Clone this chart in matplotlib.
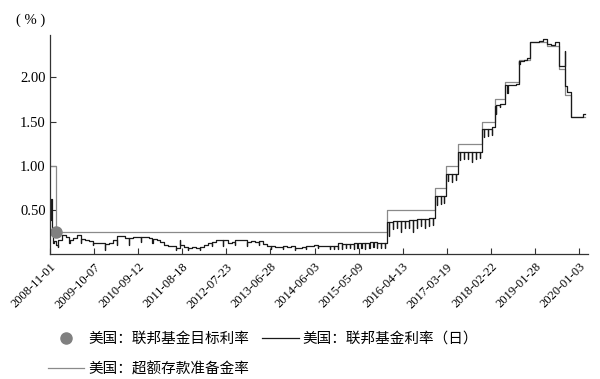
import numpy as np
import pandas as pd
import matplotlib
matplotlib.use('Agg')
import matplotlib.pyplot as plt
from matplotlib.lines import Line2D

nan = np.nan

# monthly level of the effective fed funds rate, Nov 2008 .. Feb 2020
effr_level = [
    0.38, 0.15,                                                          # 2008
    0.16, 0.22, 0.19, 0.16, 0.18, 0.21, 0.17, 0.16, 0.15, 0.12, 0.12, 0.12,  # 2009
    0.11, 0.13, 0.16, 0.20, 0.20, 0.18, 0.18, 0.19, 0.19, 0.19, 0.19, 0.18,  # 2010
    0.17, 0.16, 0.14, 0.10, 0.09, 0.09, 0.07, 0.10, 0.08, 0.07, 0.08, 0.07,  # 2011
    0.08, 0.10, 0.13, 0.14, 0.16, 0.16, 0.16, 0.13, 0.14, 0.16, 0.16, 0.16,  # 2012
    0.14, 0.15, 0.14, 0.15, 0.11, 0.09, 0.09, 0.08, 0.08, 0.09, 0.08, 0.09,  # 2013
    0.07, 0.07, 0.08, 0.09, 0.09, 0.10, 0.09, 0.09, 0.09, 0.09, 0.09, 0.12,  # 2014
    0.11, 0.11, 0.11, 0.12, 0.12, 0.13, 0.13, 0.14, 0.14, 0.12, 0.12, 0.13,  # 2015
    0.36, 0.37, 0.37, 0.37, 0.37, 0.38, 0.39, 0.40, 0.40, 0.40, 0.41, 0.41,  # 2016
    0.66, 0.66, 0.66, 0.91, 0.91, 0.91, 1.16, 1.16, 1.16, 1.16, 1.16, 1.16,  # 2017
    1.42, 1.42, 1.44, 1.69, 1.70, 1.70, 1.91, 1.91, 1.92, 2.19, 2.20, 2.22,  # 2018
    2.40, 2.40, 2.41, 2.44, 2.38, 2.37, 2.40, 2.13, 2.13, 1.83, 1.55, 1.55,  # 2019
    1.55, 1.58,                                                          # 2020
]

# month-end value (dips around the end of month / quarter)
effr_month_end = [
    nan, 0.08,
    nan, nan, 0.12, nan, nan, 0.13, nan, nan, 0.10, nan, nan, 0.05,
    nan, nan, 0.10, nan, nan, 0.10, nan, nan, 0.14, nan, nan, 0.13,
    nan, nan, 0.10, nan, nan, 0.04, 0.16, nan, 0.05, nan, nan, 0.04,
    nan, nan, 0.09, nan, nan, 0.09, nan, nan, 0.10, nan, nan, 0.09,
    nan, nan, 0.10, nan, nan, 0.06, nan, nan, 0.06, nan, nan, 0.05,
    nan, nan, 0.06, nan, nan, 0.07, nan, nan, 0.06, 0.06, 0.06, 0.06,
    0.07, 0.07, 0.06, 0.07, 0.07, 0.06, 0.07, 0.08, 0.07, 0.07, 0.07, 0.20,
    0.28, 0.29, 0.25, 0.29, 0.29, 0.25, 0.30, 0.32, 0.29, 0.32, 0.33, 0.55,
    0.57, 0.58, 0.83, 0.82, 0.84, 1.06, 1.08, 1.08, 1.04, 1.08, 1.09, 1.33,
    1.34, 1.35, 1.58, 1.66, nan, 1.82, nan, nan, 2.15, nan, nan, 2.40,
    nan, nan, nan, nan, nan, 2.40, 2.38, nan, 1.88, 1.58, nan, nan,
    nan, nan,
]

# moves inside a month (rate hikes, spikes)
effr_jump_dates = ['2008-11-12', '2008-11-17', '2008-11-26', '2008-12-17',
                   '2015-12-17', '2016-12-15', '2017-03-16', '2017-06-15',
                   '2017-12-14', '2018-03-22', '2018-06-14', '2018-09-27',
                   '2018-12-20', '2019-09-17', '2019-09-18', '2019-09-19',
                   '2020-02-20']
effr_jump_vals = [0.62, 0.30, 0.12, 0.10,
                  0.36, 0.66, 0.91, 1.16,
                  1.42, 1.68, 1.91, 2.18,
                  2.40, 2.30, 2.25, 1.90,
                  1.58]

# interest on excess reserves
ioer_dates = ['2008-11-01', '2008-12-16', '2015-12-17', '2016-12-15', '2017-03-16',
              '2017-06-15', '2017-12-14', '2018-03-22', '2018-06-14', '2018-09-27',
              '2018-12-20', '2019-05-02', '2019-08-01', '2019-09-19', '2019-10-31',
              '2020-02-20']
ioer_vals = [1.00, 0.25, 0.50, 0.75, 1.00,
             1.25, 1.50, 1.75, 1.95, 2.20,
             2.40, 2.35, 2.10, 1.80, 1.55,
             1.55]

# fed funds target rate
target_dates = ['2008-12-16']
target_vals = [0.25]

x_ticks = ['2008-11-01', '2009-10-07', '2010-09-12', '2011-08-18', '2012-07-23',
           '2013-06-28', '2014-06-03', '2015-05-09', '2016-04-13', '2017-03-19',
           '2018-02-22', '2019-01-28', '2020-01-03']
y_ticks = [0.5, 1.0, 1.5, 2.0]

# build daily-ish knot list for EFFR
months = pd.date_range('2008-11-01', periods=len(effr_level), freq='MS')
knots = []
for m, lv, me in zip(months, effr_level, effr_month_end):
    knots.append((m, lv))
    if not np.isnan(me):
        knots.append((m + pd.offsets.MonthEnd(0), me))
for d, v in zip(effr_jump_dates, effr_jump_vals):
    knots.append((pd.Timestamp(d), v))
knots.sort(key=lambda k: k[0])
effr = pd.DataFrame(knots, columns=['date', 'val'])

serif = ['Liberation Serif', 'Noto Sans CJK SC']
cjk = ['Noto Sans CJK SC', 'DejaVu Sans']

fig = plt.figure(figsize=(6, 3.79), dpi=100)
ax = fig.add_axes([50 / 600, 1 - 254 / 379, 538 / 600, 219 / 379])

ax.plot(pd.to_datetime(ioer_dates), ioer_vals, drawstyle='steps-post',
        color='#8a8a8a', lw=0.9)
ax.plot(effr['date'], effr['val'], drawstyle='steps-post', color='#1a1a1a', lw=0.9)
ax.plot(pd.to_datetime(target_dates), target_vals, 'o', color='#808080', ms=8)

ax.set_xlim(pd.Timestamp('2008-11-01'), pd.Timestamp('2020-03-12'))
ax.set_ylim(0, 2.48)
ax.set_xticks(pd.to_datetime(x_ticks))
ax.set_xticklabels(x_ticks, rotation=45, ha='right', rotation_mode='anchor',
                   family=serif, fontsize=9)
ax.set_yticks(y_ticks)
ax.set_yticklabels(['%.2f' % v for v in y_ticks], family=serif, fontsize=10.5)
ax.tick_params(direction='in', length=4, width=0.8, color='#333333', pad=3)
ax.tick_params(axis='x', pad=5)
for s in ['top', 'right']:
    ax.spines[s].set_visible(False)
for s in ['left', 'bottom']:
    ax.spines[s].set_color('#333333')
    ax.spines[s].set_linewidth(0.9)

fig.text(16 / 600, 1 - 20 / 379, '( % )', family=serif, fontsize=10.5, va='center')

h_dot = Line2D([], [], ls='none', marker='o', color='#808080', ms=8)
h_eff = Line2D([], [], color='#1a1a1a', lw=0.9)
h_ioer = Line2D([], [], color='#8a8a8a', lw=0.9)
fig.legend([h_dot, h_ioer, h_eff],
           ['美国：联邦基金目标利率', '美国：超额存款准备金率', '美国：联邦基金利率（日）'],
           ncol=2, loc='upper left', bbox_to_anchor=(48 / 600, 1 - 332 / 379),
           frameon=False, prop={'family': cjk, 'size': 10.5},
           handlelength=2.5, handletextpad=0.25, columnspacing=0.9,
           labelspacing=1.1, borderpad=0, borderaxespad=0)

fig.savefig('out.png', dpi=100)
